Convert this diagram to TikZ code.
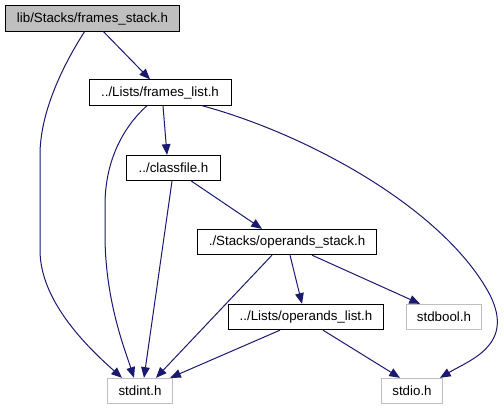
\documentclass[tikz,border=0pt]{standalone}
\usepackage{fontspec}
\setmainfont{Liberation Sans}
\usetikzlibrary{arrows.meta,calc}
\definecolor{edgeblue}{HTML}{191970}
\definecolor{grey75}{HTML}{BFBFBF}
\begin{document}
\begin{tikzpicture}[x=0.75pt,y=-0.75pt,
		file/.style={draw=black,line width=0.75pt,minimum height=19pt,inner sep=0pt,font=\fontsize{10}{12}\selectfont},
		sysfile/.style={file,draw=grey75},
		inc/.style={edgeblue,line width=0.75pt,-{Triangle[length=8pt,width=6.5pt]}}]
			\useasboundingbox (0,0) rectangle (504,411);
			\node[file,fill=grey75,minimum width=131pt] (fs) at (92.5,18.5) {lib/Stacks/frames\_stack.h};
			\node[file,minimum width=106.5pt] (fl) at (160,92.5) {../Lists/frames\_list.h};
			\node[file,minimum width=70pt] (cf) at (173.5,168) {../classfile.h};
			\node[file,minimum width=134pt] (os) at (287,242) {./Stacks/operands\_stack.h};
			\node[file,minimum width=116pt] (ol) at (306,317) {../Lists/operands\_list.h};
			\node[sysfile,minimum width=56pt] (sb) at (444,317) {stdbool.h};
			\node[sysfile,minimum width=49pt] (si) at (140,391) {stdint.h};
			\node[sysfile,minimum width=45.5pt] (sio) at (412,391) {stdio.h};
			\draw[inc] ($(fs.south)+(11,0)$) -- ($(fl.north)+(-10,0)$);
			\draw[inc] ($(fs.south)+(-8,0)$) .. controls (60,70) and (40,115) .. (40,155) -- (40,250) .. controls (40,300) and (85,345) .. ($(si.north)+(-18,0)$);
			\draw[inc] ($(fl.south)+(-13,0)$) .. controls (120,130) and (105,165) .. (105,205) -- (105,235) .. controls (105,300) and (125,350) .. ($(si.north)+(-6,0)$);
			\draw[inc] ($(fl.south)+(3,0)$) -- ($(cf.north)+(-6.5,0)$);
			\draw[inc] ($(fl.south)+(42,0)$) .. controls (310,135) and (445,210) .. (490,295) .. controls (515,345) and (470,360) .. ($(sio.north)+(28,0)$);
			\draw[inc] ($(cf.south)+(18,0)$) -- ($(os.north)+(-25,0)$);
			\draw[inc] ($(cf.south)+(-1.5,0)$) -- ($(si.north)+(4,0)$);
			\draw[inc] ($(os.south)+(-15,0)$) -- ($(si.north)+(16,0)$);
			\draw[inc] ($(os.south)+(3,0)$) -- ($(ol.north)+(-4,0)$);
			\draw[inc] ($(os.south)+(25,0)$) -- ($(sb.north)+(-24,0)$);
			\draw[inc] ($(ol.south)+(-26,0)$) -- ($(si.north east)+(-3,0)$);
			\draw[inc] ($(ol.south)+(17,0)$) -- ($(sio.north)+(-12,0)$);
		\end{tikzpicture}
\end{document}
